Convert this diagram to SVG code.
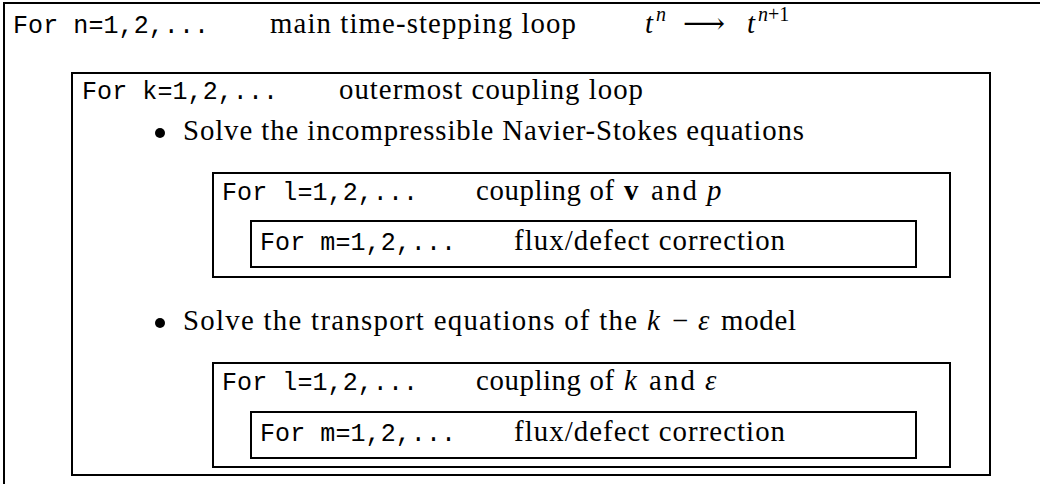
<svg xmlns="http://www.w3.org/2000/svg" width="1040" height="484" viewBox="0 0 1040 484">
<style>
.box{fill:none;stroke:#000;stroke-width:2}
.tt{font-family:"Liberation Mono","DejaVu Sans Mono",monospace;font-size:25px;fill:#000}
.rm{font-family:"Liberation Serif","DejaVu Serif",serif;font-size:28.8px;fill:#000}
.it{font-style:italic}
.bf{font-weight:bold}
.sup{font-family:"Liberation Serif","DejaVu Serif",serif;font-size:20px;fill:#000}
</style>
<rect width="1040" height="484" fill="#fff"/>
<g id="loop-n">
<path class="box" d="M1041 3H4V485"/>
<text class="tt" x="13" y="33" textLength="196">For n=1,2,...</text>
<text class="rm" x="270" y="33" textLength="306">main time-stepping loop</text>
<text class="rm it" x="645" y="33">t</text>
<text class="sup it" x="656" y="21">n</text>
<text class="rm" x="683" y="33" textLength="42" lengthAdjust="spacingAndGlyphs">⟶</text>
<text class="rm it" x="747" y="33">t</text>
<text class="sup" x="758" y="21"><tspan class="it">n</tspan>+1</text>
</g>
<g id="loop-k">
<rect class="box" x="72" y="73" width="918" height="402"/>
<text class="tt" x="82" y="99" textLength="196">For k=1,2,...</text>
<text class="rm" x="339" y="99" textLength="304">outermost coupling loop</text>
</g>
<g id="solve-ns">
<circle cx="160" cy="133" r="5"/>
<text class="rm" x="183" y="140" textLength="621">Solve the incompressible Navier-Stokes equations</text>
</g>
<g id="loop-l1">
<rect class="box" x="213" y="173" width="737" height="104"/>
<text class="tt" x="222" y="200" textLength="196">For l=1,2,...</text>
<text class="rm" x="476" y="200" textLength="138">coupling of</text>
<text class="rm bf" x="624" y="200">v</text>
<text class="rm" x="651" y="200" textLength="46">and</text>
<text class="rm it" x="707" y="200">p</text>
</g>
<g id="loop-m1">
<rect class="box" x="251" y="221" width="665" height="46"/>
<text class="tt" x="260" y="250" textLength="196">For m=1,2,...</text>
<text class="rm" x="514" y="250" textLength="271">flux/defect correction</text>
</g>
<g id="solve-ke">
<circle cx="160" cy="323" r="5"/>
<text class="rm" x="183" y="330" textLength="454">Solve the transport equations of the</text>
<text class="rm it" x="647" y="330">k</text>
<text class="rm" x="680" y="330" text-anchor="middle">−</text>
<text class="rm it" x="698" y="330">ε</text>
<text class="rm" x="721" y="330" textLength="75">model</text>
</g>
<g id="loop-l2">
<rect class="box" x="213" y="363" width="737" height="104"/>
<text class="tt" x="222" y="390" textLength="196">For l=1,2,...</text>
<text class="rm" x="476" y="390" textLength="138">coupling of</text>
<text class="rm it" x="624" y="390">k</text>
<text class="rm" x="649" y="390" textLength="46">and</text>
<text class="rm it" x="705" y="390">ε</text>
</g>
<g id="loop-m2">
<rect class="box" x="251" y="412" width="665" height="46"/>
<text class="tt" x="260" y="441" textLength="196">For m=1,2,...</text>
<text class="rm" x="514" y="441" textLength="271">flux/defect correction</text>
</g>
</svg>
